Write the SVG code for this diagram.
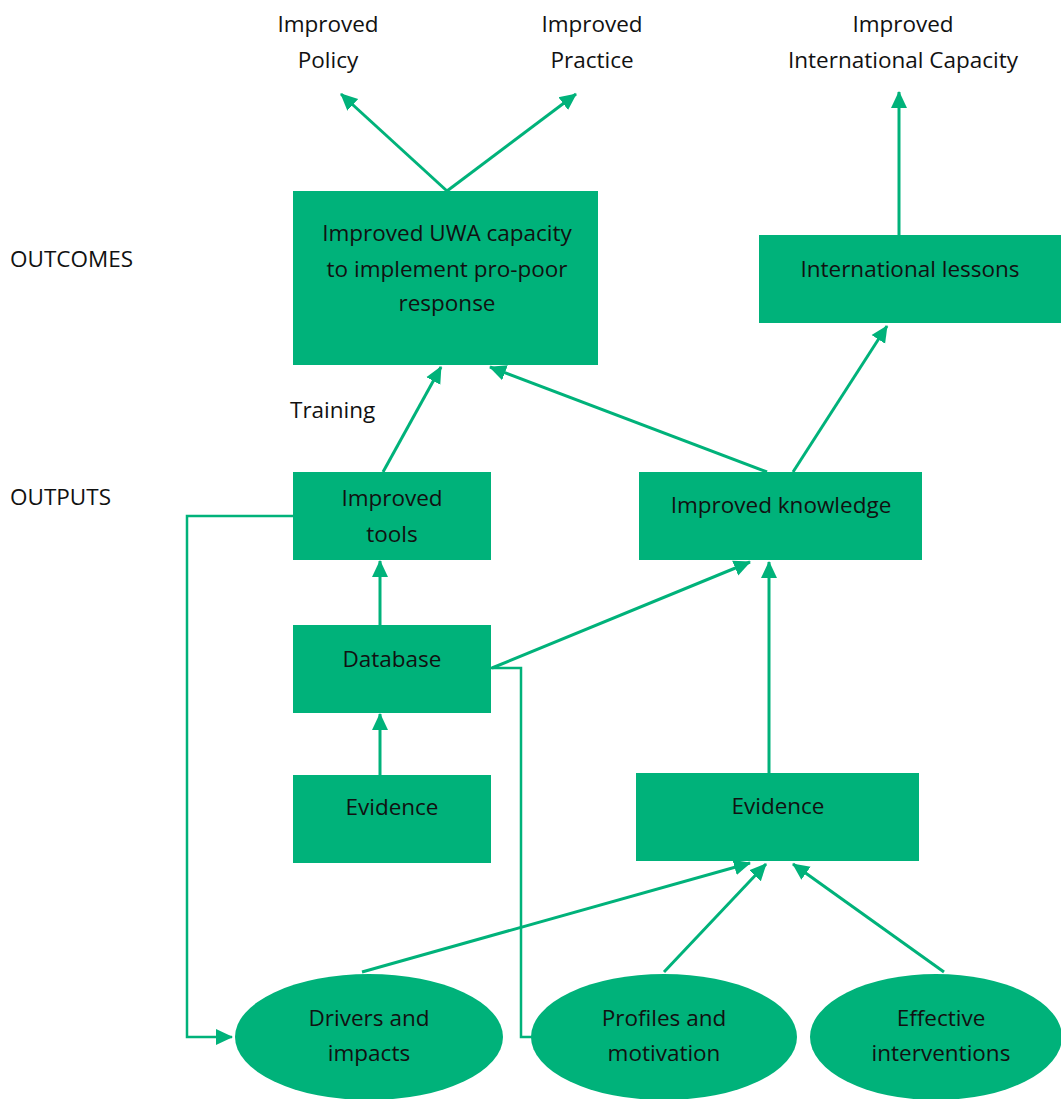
<svg xmlns="http://www.w3.org/2000/svg" width="1061" height="1099" viewBox="0 0 1061 1099">
<defs>
<style>
.box{fill:#00B27A;}
.t{font-family:"Open Sans","Liberation Sans",sans-serif;font-size:22.5px;fill:#111;text-anchor:middle;}
.l{font-family:"Open Sans","Liberation Sans",sans-serif;font-size:22.5px;fill:#111;}
.c{stroke:#00B27A;stroke-width:3;fill:none;}
.e{stroke:#00B27A;stroke-width:2.5;fill:none;}
</style>
<marker id="ah" markerUnits="userSpaceOnUse" markerWidth="18" markerHeight="18" viewBox="0 0 18 18" refX="16" refY="9" orient="auto">
<path d="M0,1 L17,9 L0,17 Z" fill="#00B27A"/>
</marker>
</defs>
<rect width="1061" height="1099" fill="#fff"/>
<g id="labels">
<text class="l" x="10" y="267">OUTCOMES</text>
<text class="l" x="10" y="505">OUTPUTS</text>
<text class="l" x="290" y="418">Training</text>
<text class="t" x="328" y="32">Improved</text>
<text class="t" x="328" y="68">Policy</text>
<text class="t" x="592" y="32">Improved</text>
<text class="t" x="592" y="68">Practice</text>
<text class="t" x="903" y="32">Improved</text>
<text class="t" x="903" y="68">International Capacity</text>
</g>
<g id="connectors">
<line class="c" x1="447" y1="191" x2="341" y2="94" marker-end="url(#ah)"/>
<line class="c" x1="447" y1="191" x2="576" y2="94" marker-end="url(#ah)"/>
<line class="c" x1="899" y1="235" x2="899" y2="92" marker-end="url(#ah)"/>
<line class="c" x1="383" y1="472" x2="441" y2="367" marker-end="url(#ah)"/>
<line class="c" x1="767" y1="472" x2="490" y2="367" marker-end="url(#ah)"/>
<line class="c" x1="793" y1="472" x2="887" y2="326" marker-end="url(#ah)"/>
<line class="c" x1="380" y1="625" x2="380" y2="561" marker-end="url(#ah)"/>
<line class="c" x1="380" y1="775" x2="380" y2="714" marker-end="url(#ah)"/>
<line class="c" x1="492" y1="668" x2="750" y2="562" marker-end="url(#ah)"/>
<line class="c" x1="769" y1="773" x2="769" y2="562" marker-end="url(#ah)"/>
<line class="c" x1="362" y1="972" x2="750" y2="863" marker-end="url(#ah)"/>
<line class="c" x1="664" y1="972" x2="766" y2="864" marker-end="url(#ah)"/>
<line class="c" x1="944" y1="972" x2="793" y2="864" marker-end="url(#ah)"/>
<polyline class="e" points="491,668 521,668 521,1037 533,1037"/>
<polyline class="e" points="293,516 187,516 187,1037 232,1037" marker-end="url(#ah)"/>
</g>
<g id="uwa"><rect class="box" x="293" y="191" width="305" height="174"/>
<text class="t" x="447" y="241">Improved UWA capacity</text>
<text class="t" x="447" y="277">to implement pro-poor</text>
<text class="t" x="447" y="311">response</text></g>
<g id="intl"><rect class="box" x="759" y="235" width="302" height="88"/>
<text class="t" x="910" y="277">International lessons</text></g>
<g id="tools"><rect class="box" x="293" y="472" width="198" height="88"/>
<text class="t" x="392" y="506">Improved</text>
<text class="t" x="392" y="542">tools</text></g>
<g id="knowledge"><rect class="box" x="639" y="472" width="283" height="88"/>
<text class="t" x="781" y="513">Improved knowledge</text></g>
<g id="database"><rect class="box" x="293" y="625" width="198" height="88"/>
<text class="t" x="392" y="667">Database</text></g>
<g id="evidence1"><rect class="box" x="293" y="775" width="198" height="88"/>
<text class="t" x="392" y="815">Evidence</text></g>
<g id="evidence2"><rect class="box" x="636" y="773" width="283" height="88"/>
<text class="t" x="778" y="814">Evidence</text></g>
<g id="drivers"><ellipse class="box" cx="369" cy="1037" rx="134" ry="63"/>
<text class="t" x="369" y="1026">Drivers and</text>
<text class="t" x="369" y="1061">impacts</text></g>
<g id="profiles"><ellipse class="box" cx="664" cy="1037" rx="133" ry="63"/>
<text class="t" x="664" y="1026">Profiles and</text>
<text class="t" x="664" y="1061">motivation</text></g>
<g id="effective"><ellipse class="box" cx="936" cy="1037" rx="126" ry="63"/>
<text class="t" x="941" y="1026">Effective</text>
<text class="t" x="941" y="1061">interventions</text></g>
</svg>
